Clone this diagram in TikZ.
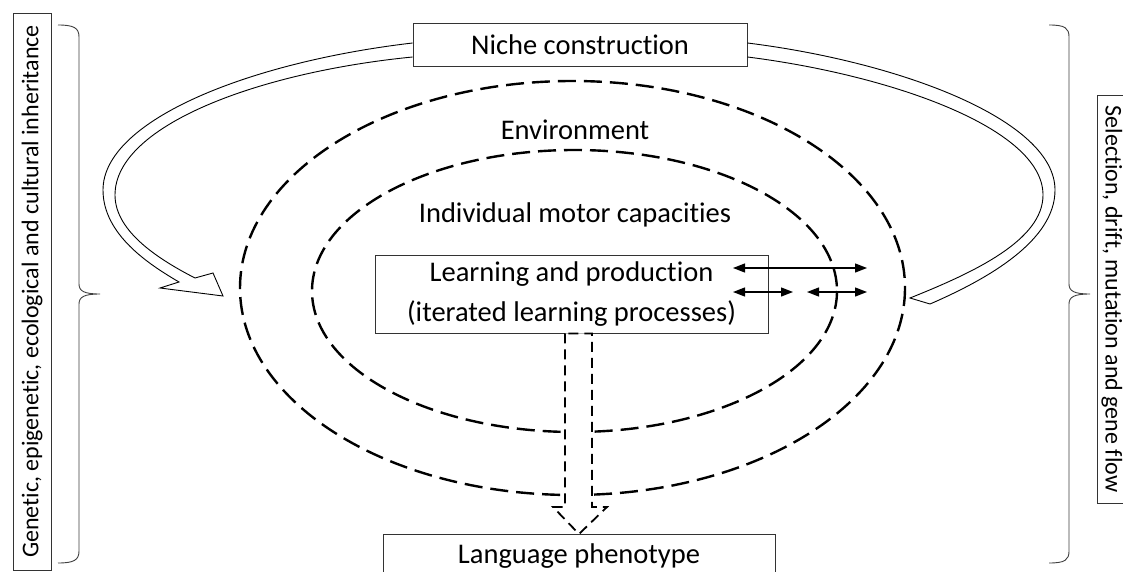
\documentclass[tikz,border=0pt]{standalone}
\usepackage{fontspec}
\setmainfont{Carlito}[Ligatures=NoCommon]
\usetikzlibrary{arrows.meta}
\begin{document}
\begin{tikzpicture}[x=1pt,y=-1pt,
  boxline/.style={draw=black!80, line width=0.9pt},
  maintext/.style={font=\fontsize{28.5}{40}\selectfont},
  sidetext/.style={font=\fontsize{24}{28}\selectfont},
  envline/.style={draw=black, line width=2.4pt, dash pattern=on 18pt off 8pt},
  loopline/.style={draw=black, line width=0.9pt},
  flowline/.style={draw=black, line width=1.8pt, dash pattern=on 10pt off 6pt, fill=white},
  exchange/.style={line width=1.3pt, {Triangle[length=12pt,width=9pt]}-{Triangle[length=12pt,width=9pt]}},
  bracket/.style={draw=black!75, line width=0.9pt}
]
\clip (0,0) rectangle (1123,572);
\fill[white] (0,0) rectangle (1123,572);

% nested environments
\draw[envline] (572.5,288) ellipse [x radius=332.5, y radius=207];
\draw[envline] (574.5,291) ellipse [x radius=262.5, y radius=141];
\node[maintext] (env) at (575,130) {Environment};
\node[maintext] (motor) at (575,215) {Individual motor capacities};

% niche construction and its feedback loops
\node[boxline, fill=white, minimum width=334pt, minimum height=43pt, inner sep=0pt, maintext] (niche) at (580,44.5) {Niche construction};

\draw[loopline] (niche.west |- 0,43) .. controls (250,62) and (103,120) .. (103,190)
  .. controls (103,235) and (150,265) .. (179,282) -- (160,288) -- (223,296) -- (213,273) -- (195,278)
  .. controls (160,260) and (115,232) .. (115,195)
  .. controls (115,125) and (260,72) .. (niche.west |- 0,57);

\draw[loopline] (niche.east |- 0,43) .. controls (900,62) and (1055,120) .. (1055,190)
  .. controls (1055,240) and (990,278) .. (930,304) -- (910,298)
  .. controls (975,272) and (1043,240) .. (1043,195)
  .. controls (1043,128) and (890,75) .. (niche.east |- 0,57);

% learning and production
\node[boxline, fill=white, minimum width=393pt, minimum height=78pt, inner sep=0pt, align=center, maintext] (learn) at (571.5,294)
  {Learning and production\\(iterated learning processes)};

\coordinate (a1) at (733,268);
\coordinate (a2) at (867,268);
\coordinate (b1) at (733,292);
\coordinate (b2) at (793,292);
\coordinate (c1) at (807,292);
\coordinate (c2) at (867,292);
\draw[exchange] (a1) -- (a2);
\draw[exchange] (b1) -- (b2);
\draw[exchange] (c1) -- (c2);

% language phenotype
\node[boxline, fill=white, anchor=north, minimum width=392pt, inner ysep=9pt, maintext] (pheno) at (579,534) {Language phenotype};

\draw[flowline] (learn.south -| 565,0) -- (565,507) -- (553,507) -- (pheno.north) -- (607,507) -- (592,507) -- (learn.south -| 592,0) -- cycle;

% side labels
\node[boxline, rotate=90, minimum width=557pt, minimum height=38pt, inner sep=0pt, sidetext] (inherit) at (32,291.5)
  {Genetic, epigenetic, ecological and cultural inheritance};
\node[boxline, rotate=-90, minimum width=408pt, minimum height=30pt, inner sep=0pt, sidetext] (forces) at (1112,299)
  {Selection, drift, mutation and gene flow};

% braces
\draw[bracket] (58,25) .. controls (74,25) and (79,28) .. (79,37) -- (79,284)
  .. controls (79,291) and (84,294) .. (100,294)
  .. controls (84,294) and (79,297) .. (79,304) -- (79,551)
  .. controls (79,560) and (74,563) .. (58,563);
\draw[bracket] (1049,25) .. controls (1065,25) and (1069,28) .. (1069,37) -- (1069,284)
  .. controls (1069,291) and (1074,294) .. (1090,294)
  .. controls (1074,294) and (1069,297) .. (1069,304) -- (1069,551)
  .. controls (1069,560) and (1065,563) .. (1049,563);
\end{tikzpicture}
\end{document}
